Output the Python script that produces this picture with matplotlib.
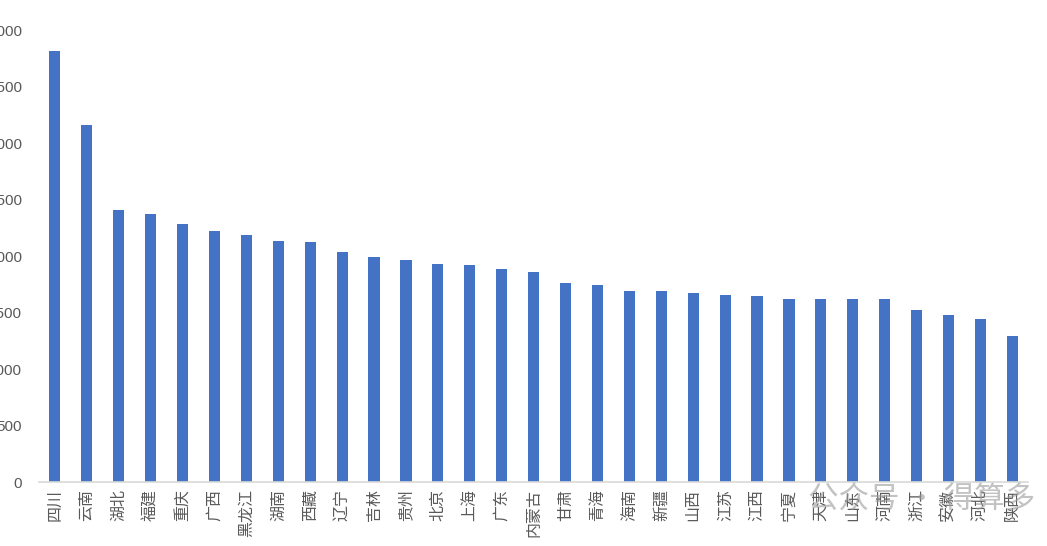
import matplotlib.pyplot as plt

plt.rcParams['font.family'] = ['Noto Sans CJK SC', 'DejaVu Sans']

# 各省数值
provinces = ['四川', '云南', '湖北', '福建', '重庆', '广西', '黑龙江', '湖南', '西藏', '辽宁',
             '吉林', '贵州', '北京', '上海', '广东', '内蒙古', '甘肃', '青海', '海南', '新疆',
             '山西', '江苏', '江西', '宁夏', '天津', '山东', '河南', '浙江', '安徽', '河北', '陕西']
values = [3814, 3159, 2407, 2372, 2283, 2221, 2186, 2133, 2124, 2035,
          1991, 1965, 1929, 1920, 1885, 1858, 1761, 1743, 1690, 1690,
          1673, 1655, 1646, 1619, 1619, 1619, 1619, 1522, 1478, 1442, 1292]
yticks = list(range(0, 4001, 500))

fig = plt.figure(figsize=(10.47, 5.46), dpi=100)
ax = fig.add_axes([0.0372, 0.117, 0.945, 0.828])

x = range(len(provinces))
ax.bar(x, values, width=0.35, color='#4472C4', zorder=2)

ax.set_xlim(-0.5, len(provinces) - 0.5)
ax.set_ylim(0, 4000)
ax.set_yticks(yticks)
ax.set_yticklabels([str(v) for v in yticks], color='#595959', fontsize=11,
                   family='Liberation Sans')
ax.tick_params(axis='y', length=0, pad=12)

ax.set_xticks(list(x))
ax.set_xticklabels(provinces, rotation=90, color='#595959', fontsize=11.5)
ax.tick_params(axis='x', length=0, pad=5)

for side in ['top', 'right', 'left']:
    ax.spines[side].set_visible(False)
ax.spines['bottom'].set_color('#D9D9D9')
ax.spines['bottom'].set_linewidth(1.2)

# 水印
fig.text(0.772, 0.085, '公众号 · 得算多', fontsize=22, color='#9a9a9a', alpha=0.6,
         ha='left', va='center')

fig.savefig('out.png', dpi=100)
